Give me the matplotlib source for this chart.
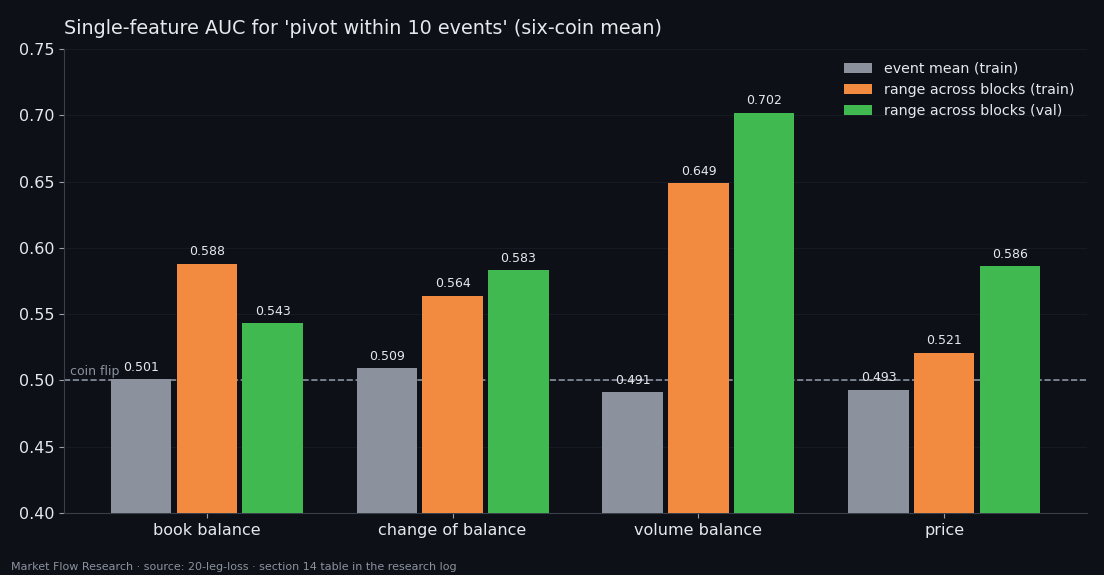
import numpy as np
import matplotlib
matplotlib.use('Agg')
import matplotlib.pyplot as plt

# data
features = ["book balance", "change of balance", "volume balance", "price"]
event_mean_train = [0.501, 0.509, 0.491, 0.493]
range_train = [0.588, 0.564, 0.649, 0.521]
range_val = [0.543, 0.583, 0.702, 0.586]
series_labels = ["event mean (train)", "range across blocks (train)", "range across blocks (val)"]
series_colors = ["#8b929e", "#f28a40", "#3fb950"]

bg = "#0d1017"
fg = "#e6e8ec"

fig = plt.figure(figsize=(11.04, 5.75), dpi=100, facecolor=bg)
ax = fig.add_axes([64 / 1104, 1 - 513 / 575, (1087 - 64) / 1104, (513 - 49) / 575])
ax.set_facecolor(bg)

x = np.arange(len(features))
width = 0.245
offset = 0.268
for i, (vals, lab, col) in enumerate(zip([event_mean_train, range_train, range_val], series_labels, series_colors)):
    bars = ax.bar(x + (i - 1) * offset, vals, width, color=col, label=lab, zorder=3)
    for b, v in zip(bars, vals):
        ax.text(b.get_x() + b.get_width() / 2, v + 0.004, f"{v:.3f}", ha='center', va='bottom',
                color=fg, fontsize=9, zorder=4)

ax.axhline(0.5, color="#8b929e", linestyle='--', linewidth=1.2, zorder=2)
ax.text(-0.555, 0.5015, "coin flip", color="#8b929e", fontsize=9, va='bottom', ha='left')

ax.set_ylim(0.40, 0.75)
ax.set_xlim(-0.58, 3.58)
ax.set_yticks(np.arange(0.40, 0.751, 0.05))
ax.set_yticklabels([f"{t:.2f}" for t in np.arange(0.40, 0.751, 0.05)])
ax.set_xticks(x)
ax.set_xticklabels(features)
ax.tick_params(axis='both', colors=fg, labelsize=11.5)
ax.tick_params(axis='both', color="#9aa0aa")
ax.grid(axis='y', color="#161a22", linewidth=0.8, zorder=0)
for s in ['top', 'right']:
    ax.spines[s].set_visible(False)
for s in ['left', 'bottom']:
    ax.spines[s].set_color("#3a3f4a")

ax.set_title("Single-feature AUC for 'pivot within 10 events' (six-coin mean)", loc='left',
             color=fg, fontsize=13.8, pad=11)

leg = ax.legend(loc='upper right', frameon=False, fontsize=10.3, labelcolor=fg,
                handlelength=2.0, handleheight=0.7, labelspacing=0.5)

fig.text(11 / 1104, 1 - 567 / 575, "Market Flow Research · source: 20-leg-loss · section 14 table in the research log",
         color="#8b929e", fontsize=8, va='center', ha='left')

fig.savefig("out.png", dpi=100, facecolor=bg)
